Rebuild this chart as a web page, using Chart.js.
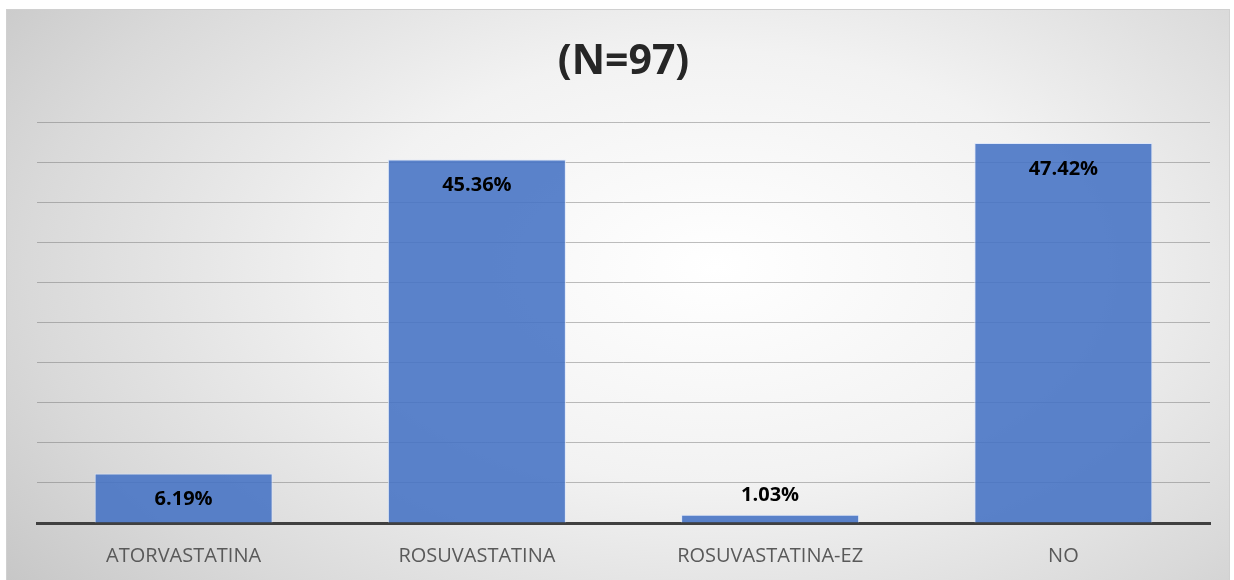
<!DOCTYPE html>
<html>
<head>
<meta charset="utf-8">
<script src="https://cdn.jsdelivr.net/npm/chart.js@4"></script>
<style>
  body { margin: 0; background: #fff; }
  .c {
    position: absolute; left: 6px; top: 9px; width: 1224px; height: 573px;
    box-sizing: border-box; border: 1px solid #d0d0d0;
    background: radial-gradient(ellipse 75% 95% at 58% 45%, #ffffff 0%, #f2f2f2 40%, #d9d9d9 75%, #c4c4c4 100%);
  }
</style>
</head>
<body>
<div class="c"><canvas id="chart"></canvas></div>
<script>
const categories = ["ATORVASTATINA", "ROSUVASTATINA", "ROSUVASTATINA-EZ", "NO"];
const percents = [6.19, 45.36, 1.03, 47.42];
const titleText = "(N=97)";

const labelPlugin = {
  id: "barLabels",
  afterDatasetsDraw(chart) {
    const ctx = chart.ctx;
    const meta = chart.getDatasetMeta(0);
    ctx.save();
    ctx.font = "bold 20px 'Open Sans', sans-serif";
    ctx.fillStyle = "#000";
    ctx.textAlign = "center";
    ctx.textBaseline = "middle";
    meta.data.forEach((bar, i) => {
      const h = bar.base - bar.y;
      const y = h > 30 ? bar.y + 26 : bar.y - 19;
      ctx.fillText(percents[i].toFixed(2) + "%", bar.x, y);
    });
    ctx.restore();
  }
};

new Chart(document.getElementById("chart"), {
  type: "bar",
  data: {
    labels: categories,
    datasets: [{
      data: percents,
      backgroundColor: "rgba(68,114,196,0.88)",
      borderColor: "rgba(220,230,250,0.9)",
      borderWidth: 1,
      categoryPercentage: 1,
      barPercentage: 0.607
    }]
  },
  options: {
    responsive: true,
    maintainAspectRatio: false,
    animation: false,
    layout: { padding: { left: 30, right: 19, top: 28, bottom: 0 } },
    plugins: {
      legend: { display: false },
      tooltip: { enabled: false },
      title: {
        display: true,
        text: titleText,
        color: "#262626",
        font: { family: "'Open Sans', sans-serif", size: 41, weight: "bold" },
        padding: { top: 0, bottom: 35 }
      }
    },
    scales: {
      x: {
        grid: { display: false },
        border: { color: "#404040", width: 3 },
        ticks: {
          color: "#595959",
          font: { family: "'Open Sans', sans-serif", size: 20, lineHeight: 1 },
          padding: 15
        }
      },
      y: {
        min: 0,
        max: 50,
        ticks: { display: false, stepSize: 5 },
        border: { display: false },
        grid: { color: "rgba(110,110,110,0.45)", lineWidth: 1, drawTicks: false },
        afterFit(scale) { scale.width = 0; }
      }
    }
  },
  plugins: [labelPlugin]
});
</script>
</body>
</html>
